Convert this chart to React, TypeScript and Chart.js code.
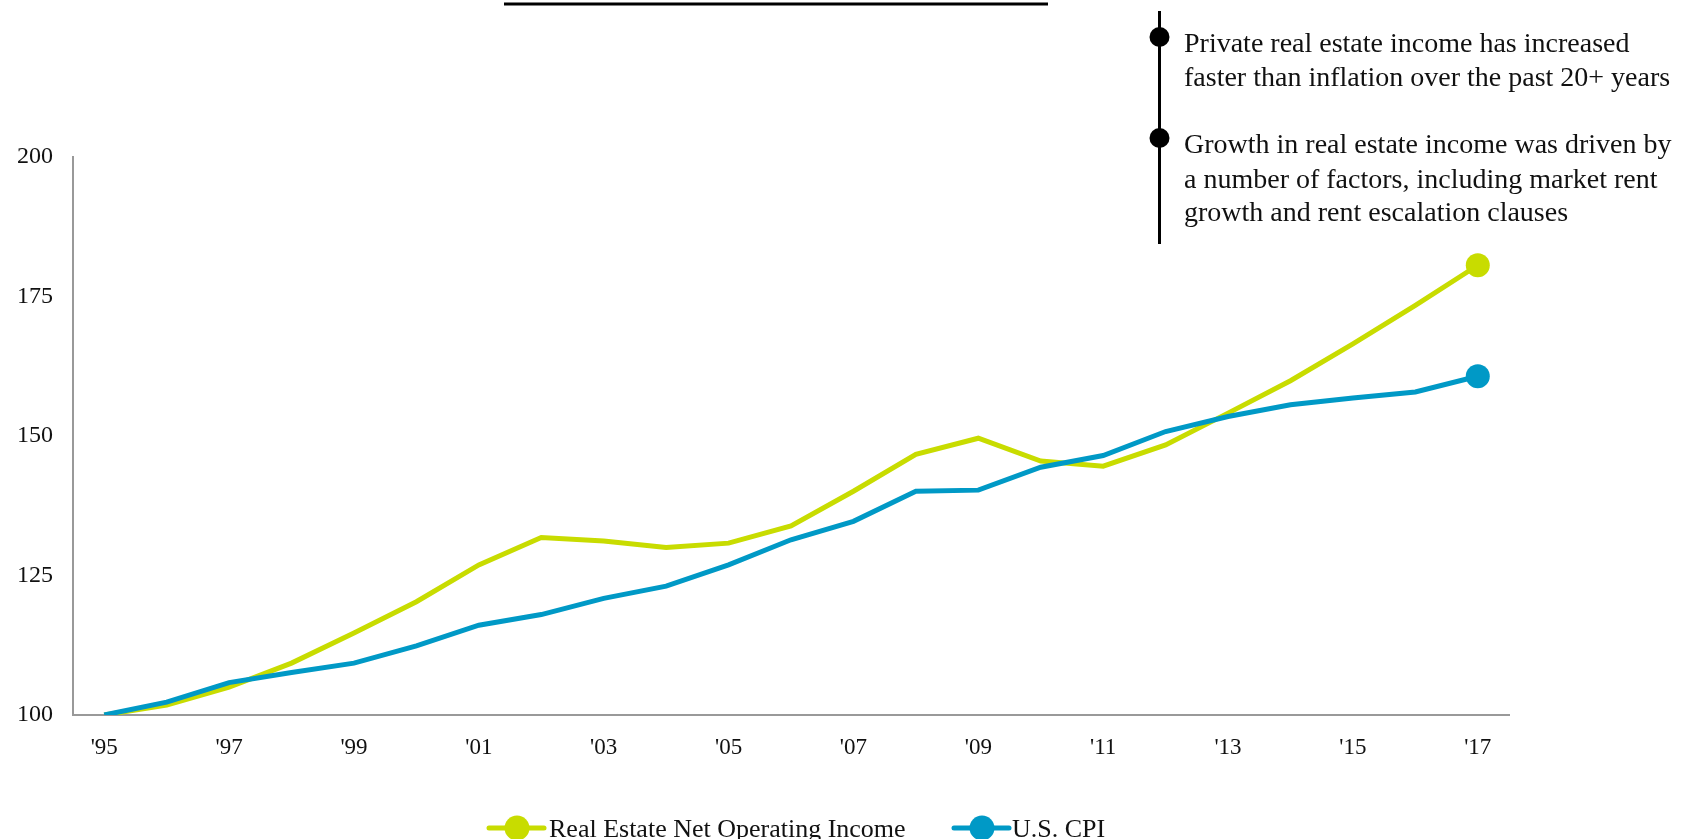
import React, { useEffect, useRef } from "react";
import { Chart, registerables } from "chart.js";

Chart.register(...registerables);

const years: string[] = ["'95","'96","'97","'98","'99","'00","'01","'02","'03","'04","'05","'06","'07","'08","'09","'10","'11","'12","'13","'14","'15","'16","'17"];
const noiValues: number[] = [100,101.8,105,109.3,114.7,120.3,126.9,131.8,131.2,130.0,130.8,133.9,140.1,146.7,149.6,145.5,144.6,148.4,154.1,159.9,166.5,173.4,180.6];
const cpiValues: number[] = [100,102.3,105.8,107.6,109.3,112.4,116.1,118.0,120.9,123.1,126.9,131.4,134.7,140.1,140.3,144.4,146.5,150.8,153.5,155.6,156.8,157.9,160.7];
const yTicks: number[] = [100, 125, 150, 175, 200];
const seriesNames: string[] = ["Real Estate Net Operating Income", "U.S. CPI"];
const bulletLines: string[][] = [
  ["Private real estate income has increased", "faster than inflation over the past 20+ years"],
  ["Growth in real estate income was driven by", "a number of factors, including market rent", "growth and rent escalation clauses"],
];

const GREEN = "#C8DC00";
const BLUE = "#0099C6";
const FONT = "'Liberation Serif', 'Times New Roman', serif";

const W = 1693;
const H = 839;

export default function App() {
  const ref = useRef<HTMLCanvasElement | null>(null);

  useEffect(() => {
    if (!ref.current) return;
    const last = years.length - 1;
    const radii = years.map((_, i) => (i === last ? 12 : 0));

    const overlay = {
      id: "overlay",
      afterDraw(chart: any) {
        const ctx = chart.ctx as CanvasRenderingContext2D;
        ctx.save();
        // top rule
        ctx.strokeStyle = "#000";
        ctx.lineWidth = 3;
        ctx.beginPath();
        ctx.moveTo(504, 4);
        ctx.lineTo(1048, 4);
        ctx.stroke();
        // annotation vertical line
        ctx.lineWidth = 3;
        ctx.beginPath();
        ctx.moveTo(1159.5, 11);
        ctx.lineTo(1159.5, 244);
        ctx.stroke();
        // bullets
        const bulletY = [37, 138];
        const baselines = [[52, 86], [153, 188, 221]];
        ctx.fillStyle = "#000";
        ctx.font = `28px ${FONT}`;
        ctx.textBaseline = "alphabetic";
        ctx.textAlign = "left";
        bulletLines.forEach((lines, bi) => {
          ctx.beginPath();
          ctx.arc(1159.5, bulletY[bi], 10, 0, Math.PI * 2);
          ctx.fill();
          lines.forEach((t, li) => {
            ctx.fillStyle = "#111";
            ctx.fillText(t, 1184, baselines[bi][li]);
          });
          ctx.fillStyle = "#000";
        });
        // legend
        const legend = [
          { name: seriesNames[0], color: GREEN, cx: 517, tx: 549 },
          { name: seriesNames[1], color: BLUE, cx: 982, tx: 1012 },
        ];
        const ly = 828;
        ctx.font = `26px ${FONT}`;
        ctx.textBaseline = "alphabetic";
        legend.forEach((l) => {
          ctx.strokeStyle = l.color;
          ctx.lineWidth = 5;
          ctx.lineCap = "round";
          ctx.beginPath();
          ctx.moveTo(l.cx - 28, ly);
          ctx.lineTo(l.cx + 27, ly);
          ctx.stroke();
          ctx.fillStyle = l.color;
          ctx.beginPath();
          ctx.arc(l.cx, ly, 12.5, 0, Math.PI * 2);
          ctx.fill();
          ctx.fillStyle = "#111";
          ctx.fillText(l.name, l.tx, ly + 9);
        });
        ctx.restore();
      },
    };

    const chart = new Chart(ref.current, {
      type: "line",
      data: {
        labels: years,
        datasets: [
          {
            label: seriesNames[1],
            data: cpiValues,
            borderColor: BLUE,
            backgroundColor: BLUE,
            borderWidth: 5,
            pointRadius: radii,
            pointHoverRadius: radii,
            pointBorderWidth: 0,
            tension: 0,
          },
          {
            label: seriesNames[0],
            data: noiValues,
            borderColor: GREEN,
            backgroundColor: GREEN,
            borderWidth: 5,
            pointRadius: radii,
            pointHoverRadius: radii,
            pointBorderWidth: 0,
            tension: 0,
          },
        ],
      },
      options: {
        animation: false,
        responsive: false,
        layout: { padding: { left: 0, right: 184, top: 157, bottom: 0 } },
        plugins: { legend: { display: false }, tooltip: { enabled: false } },
        scales: {
          x: {
            offset: true,
            grid: { display: false },
            border: { display: true, color: "#999", width: 2 },
            ticks: {
              autoSkip: false,
              maxRotation: 0,
              padding: 11,
              color: "#111",
              font: { family: FONT, size: 23 },
              callback: (_v: any, i: number) => (i % 2 === 0 ? years[i] : ""),
            },
            afterFit: (s: any) => {
              s.height = H - 715;
            },
          },
          y: {
            min: 100,
            max: 200,
            afterBuildTicks: (s: any) => {
              s.ticks = yTicks.map((v) => ({ value: v }));
            },
            grid: { display: false },
            border: { display: true, color: "#999", width: 2 },
            ticks: {
              padding: 12,
              color: "#111",
              font: { family: FONT, size: 24 },
            },
            afterFit: (s: any) => {
              s.width = 73;
            },
          },
        },
      },
      plugins: [overlay],
    });
    return () => chart.destroy();
  }, []);

  return (
    <div style={{ position: "fixed", left: 0, top: 0, width: W, height: H, background: "#fff" }}>
      <canvas ref={ref} width={W} height={H} style={{ width: W, height: H, display: "block" }} />
    </div>
  );
}
